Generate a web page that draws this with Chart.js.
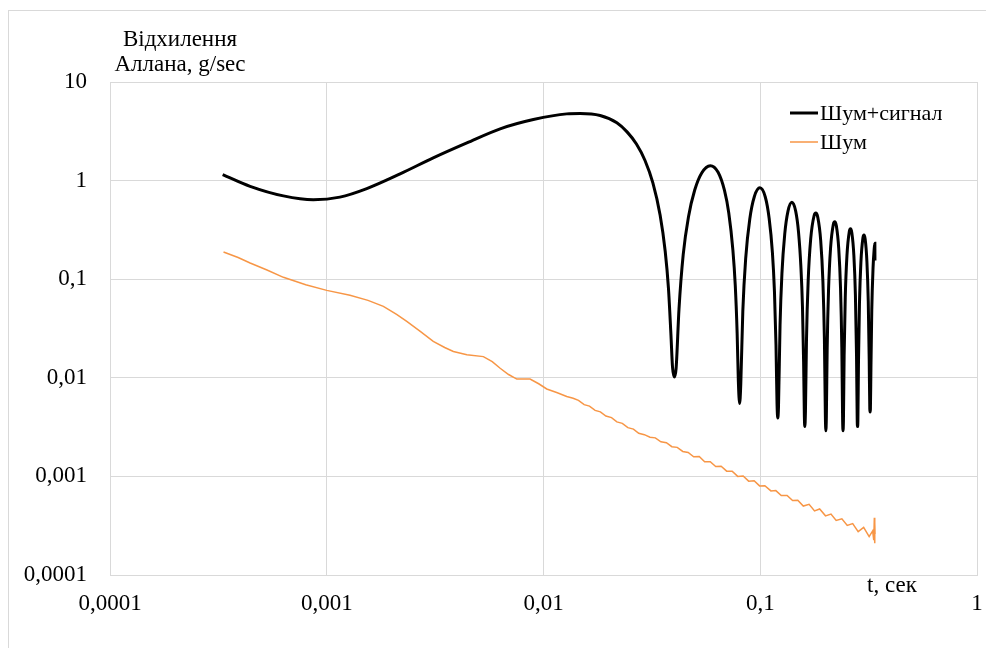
<!DOCTYPE html>
<html>
<head>
<meta charset="utf-8">
<title>Відхилення Аллана</title>
<script src="https://cdn.jsdelivr.net/npm/chart.js@4.4.1/dist/chart.umd.min.js"></script>
<style>
  html, body { margin: 0; padding: 0; background: #fff; }
  #wrap { position: relative; width: 986px; height: 648px; }
</style>
</head>
<body>
<div id="wrap"><canvas id="allanChart"></canvas></div>
<script>
// decade ticks on both axes
const xTicks = [0.0001, 0.001, 0.01, 0.1, 1];
const yTicks = [0.0001, 0.001, 0.01, 0.1, 1, 10];

const seriesNames = ['Шум+сигнал', 'Шум'];

// Шум+сигнал : tau (s) and deviation
const signalT = [
  0.000331, 0.000443, 0.000631, 0.000867, 0.00115, 0.00153, 0.00218, 0.0031, 0.00443, 0.00631,
  0.00898, 0.0128, 0.01476, 0.01825, 0.0218,
  0.02429, 0.02684, 0.0294, 0.03196, 0.03451, 0.03643, 0.03771, 0.03873, 0.03937, 0.04016,
  0.0409, 0.04218, 0.0441, 0.04666, 0.04985, 0.05369, 0.0588, 0.06391, 0.06839, 0.07158,
  0.07478, 0.0767, 0.07823, 0.07925, 0.08032,
  0.0813, 0.08309, 0.08565, 0.08948, 0.09395, 0.0996, 0.1055, 0.1099, 0.1138, 0.1163,
  0.1182, 0.1195, 0.12047,
  0.1214, 0.1234, 0.1259, 0.1297, 0.1342, 0.14, 0.1457, 0.1502, 0.154, 0.1566,
  0.1585, 0.1598, 0.1606,
  0.16165, 0.16344, 0.16638, 0.17086, 0.17725, 0.18044, 0.18428, 0.19003, 0.1945, 0.1977,
  0.19975, 0.2008,
  0.20182, 0.2036, 0.20655, 0.21102, 0.21741, 0.22061, 0.22444, 0.2302, 0.23467, 0.23786,
  0.23991, 0.24095,
  0.24198, 0.24377, 0.24671, 0.25118, 0.25757, 0.26077, 0.26461, 0.27036, 0.27483, 0.27803,
  0.28007, 0.28111,
  0.28213, 0.28392, 0.28686, 0.29134, 0.29773, 0.30092, 0.30476, 0.31051, 0.31498, 0.31818,
  0.32022, 0.32127,
  0.32229, 0.32408, 0.32702, 0.3315, 0.33533, 0.33789, 0.3382
];
const signalV = [
  1.15, 0.875, 0.70, 0.64, 0.68, 0.83, 1.17, 1.70, 2.41, 3.35,
  4.16, 4.75, 4.79, 4.57, 3.86,
  3.12, 2.35, 1.60, 0.947, 0.447, 0.192, 0.0812, 0.0271, 0.0129, 0.0102,
  0.0124, 0.0498, 0.1765, 0.430, 0.802, 1.196, 1.418, 1.216, 0.796, 0.470,
  0.197, 0.086, 0.0284, 0.0092, 0.0055,
  0.0085, 0.0471, 0.1617, 0.408, 0.690, 0.845, 0.682, 0.415, 0.186, 0.0743,
  0.0216, 0.0055, 0.0039,
  0.0051, 0.0342, 0.114, 0.287, 0.487, 0.602, 0.490, 0.299, 0.1335, 0.0525,
  0.0146, 0.0040, 0.0032,
  0.0046, 0.0246, 0.0961, 0.2545, 0.4426, 0.468, 0.4237, 0.2473, 0.0968, 0.0245,
  0.0040, 0.0029,
  0.0040, 0.0198, 0.0774, 0.2061, 0.3609, 0.3829, 0.3479, 0.2041, 0.0802, 0.0203,
  0.0037, 0.0029,
  0.0037, 0.0165, 0.0648, 0.1731, 0.3046, 0.324, 0.2951, 0.1738, 0.0685, 0.0174,
  0.0038, 0.0032,
  0.0037, 0.0142, 0.0557, 0.1492, 0.2635, 0.2808, 0.2562, 0.1513, 0.0598, 0.0152,
  0.0048, 0.0045,
  0.0048, 0.0124, 0.0489, 0.1312, 0.2001, 0.2322, 0.155
];

// Шум : tau (s) and deviation
const noiseT = [
  0.000334, 0.00039, 0.000443, 0.00053, 0.000631, 0.0008, 0.001, 0.00128, 0.00155, 0.001825,
  0.0021, 0.00234, 0.0027, 0.0031, 0.0035, 0.00384, 0.00443, 0.00528, 0.0058, 0.00631,
  0.0069, 0.00753, 0.00867, 0.0095, 0.01035, 0.0115, 0.0128, 0.0137,
  0.0145, 0.0154, 0.0163, 0.0173, 0.0183, 0.0194, 0.0206, 0.0218, 0.0231, 0.0245,
  0.026, 0.0275, 0.0292, 0.031, 0.0328, 0.0348, 0.0369, 0.0391, 0.0414, 0.0439,
  0.0465, 0.0493, 0.0523, 0.0554, 0.0588, 0.0623, 0.066, 0.07, 0.0742, 0.0787,
  0.0834, 0.0884, 0.0937, 0.0993, 0.105, 0.112, 0.118, 0.125, 0.133, 0.141,
  0.149, 0.158, 0.168, 0.178, 0.188, 0.2, 0.212, 0.224, 0.238, 0.252,
  0.267, 0.283, 0.3, 0.318, 0.33, 0.334, 0.336, 0.337, 0.338, 0.3385
];
const noiseV = [
  0.189, 0.166, 0.146, 0.124, 0.1045, 0.088, 0.077, 0.0686, 0.061, 0.053,
  0.044, 0.0373, 0.0295, 0.0234, 0.0203, 0.0185, 0.0171, 0.0164, 0.0146, 0.0125,
  0.0108, 0.0097, 0.0097, 0.0087, 0.0077, 0.0071, 0.00646, 0.0062,
  0.0059, 0.00534, 0.00516, 0.00467, 0.00451, 0.00409, 0.00395, 0.00357, 0.00345, 0.00312,
  0.00302, 0.00274, 0.00265, 0.00250, 0.00246, 0.00224, 0.0022, 0.00200, 0.00197, 0.00179,
  0.00175, 0.00158, 0.00159, 0.00141, 0.00141, 0.00126, 0.00127, 0.00113, 0.00113, 0.00100,
  0.00101, 0.000895, 0.000902, 0.000801, 0.000805, 0.000713, 0.000718, 0.000641, 0.000640, 0.000570,
  0.000574, 0.000500, 0.000521, 0.000446, 0.000467, 0.000398, 0.000415, 0.000357, 0.000371, 0.000318,
  0.000332, 0.000275, 0.000304, 0.000245, 0.000280, 0.000225, 0.00038, 0.00021, 0.00034, 0.00026
];

const FONT = '"Liberation Serif", "Times New Roman", serif';
const GRID = '#d9d9d9';

function toPoints(ts, vs) {
  return ts.map((t, i) => ({ x: t, y: vs[i] }));
}

function commaLabel(v) {
  return String(v).replace('.', ',');
}

const decor = {
  id: 'decor',
  beforeDraw(chart) {
    const c = chart.ctx;
    c.save();
    c.fillStyle = '#fff';
    c.fillRect(0, 0, chart.width, chart.height);
    c.strokeStyle = GRID;
    c.lineWidth = 1;
    c.strokeRect(8.5, 10.5, chart.width + 20, chart.height + 20);
    c.restore();
  },
  afterDraw(chart) {
    const c = chart.ctx;
    c.save();
    c.fillStyle = '#000';
    c.font = '23px ' + FONT;
    c.textAlign = 'center';
    c.textBaseline = 'alphabetic';
    c.fillText('Відхилення', 180, 46);
    c.fillText('Аллана, g/sec', 180, 71);
    c.fillText('t, сек', 892, 592);

    // legend
    c.font = '22px ' + FONT;
    c.textAlign = 'left';
    c.textBaseline = 'middle';
    chart.data.datasets.forEach((ds, i) => {
      const y = 113 + i * 29;
      c.strokeStyle = ds.borderColor;
      c.lineWidth = ds.borderWidth;
      c.beginPath();
      c.moveTo(790, y);
      c.lineTo(818, y);
      c.stroke();
      c.fillStyle = '#000';
      c.fillText(ds.label, 820, y + 1);
    });
    c.restore();
  }
};

document.addEventListener('DOMContentLoaded', function() {
  const ctx = document.getElementById('allanChart').getContext('2d');

  new Chart(ctx, {
    type: 'line',
    data: {
      datasets: [{
        label: seriesNames[0],
        data: toPoints(signalT, signalV),
        borderColor: '#000000',
        borderWidth: 3,
        pointRadius: 0,
        cubicInterpolationMode: 'monotone',
        fill: false
      }, {
        label: seriesNames[1],
        data: toPoints(noiseT, noiseV),
        borderColor: '#f79646',
        borderWidth: 1.5,
        pointRadius: 0,
        tension: 0,
        fill: false
      }]
    },
    options: {
      responsive: true,
      maintainAspectRatio: false,
      devicePixelRatio: 1,
      animation: false,
      layout: { padding: { left: 0, right: 9, top: 82, bottom: 0 } },
      plugins: {
        legend: { display: false },
        tooltip: { enabled: false }
      },
      scales: {
        x: {
          type: 'logarithmic',
          min: 0.0001,
          max: 1,
          afterBuildTicks: s => { s.ticks = xTicks.map(v => ({ value: v })); },
          afterFit: s => { s.height = 73; s.paddingLeft = 0; s.paddingRight = 0; },
          grid: { color: GRID, lineWidth: 1, drawTicks: false },
          border: { color: GRID },
          ticks: {
            autoSkip: false,
            maxRotation: 0,
            padding: 15,
            color: '#000',
            font: { family: FONT, size: 23 },
            callback: v => commaLabel(v)
          }
        },
        y: {
          type: 'logarithmic',
          min: 0.0001,
          max: 10,
          afterBuildTicks: s => { s.ticks = yTicks.map(v => ({ value: v })); },
          afterFit: s => { s.width = 110; s.paddingTop = 0; s.paddingBottom = 0; },
          grid: { color: GRID, lineWidth: 1, drawTicks: false },
          border: { color: GRID },
          ticks: {
            autoSkip: false,
            padding: 23,
            color: '#000',
            font: { family: FONT, size: 23 },
            callback: v => commaLabel(v)
          }
        }
      }
    },
    plugins: [decor]
  });
});
</script>
</body>
</html>
